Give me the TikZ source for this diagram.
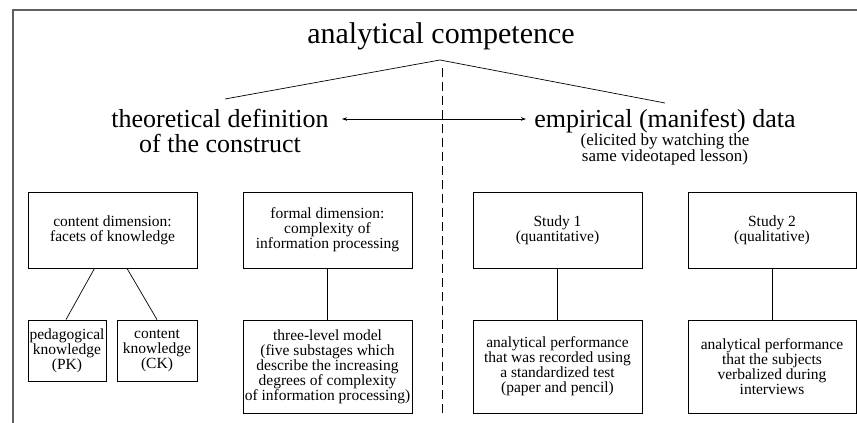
\documentclass[tikz,border=0pt]{standalone}
\usepackage{fontspec}
\setmainfont{Liberation Serif}
\newfontfamily\figserif{Liberation Serif}
\usetikzlibrary{arrows.meta}
\tikzset{
  box/.style={draw,line width=0.8pt,inner sep=0pt,align=center,font=\figserif\fontsize{15.5}{15}\selectfont},
  head/.style={inner sep=0pt,align=center,font=\figserif\fontsize{26}{25}\selectfont},
  link/.style={line width=0.7pt}
}

\begin{document}
\begin{tikzpicture}[x=1pt,y=-1pt]
    \useasboundingbox (0,0) rectangle (857,423);
    \draw [line width=1.6pt, gray!75!black] (13,423) -- (13,10) -- (857,10);

    \node [anchor=base, inner sep=0pt, font=\figserif\fontsize{30}{30}\selectfont] (title) at (441,43) {analytical competence};
    \node [head] (theo) at (220,131) {theoretical definition\\of the construct};
    \node [head, anchor=base] (emp) at (665,127) {empirical (manifest) data};
    \node [inner sep=0pt, align=center, font=\figserif\fontsize{17}{16}\selectfont] (elicit) at (665,149) {(elicited by watching the\\same videotaped lesson)};

    \coordinate (apex) at (440,60);
    \coordinate (theoTop) at (225,99);
    \coordinate (empTop) at (665,103);
    \coordinate (arrL) at (342,119);
    \coordinate (arrR) at (526,119);
    \coordinate (dashTop) at (442,68);
    \coordinate (dashBot) at (442,414);

    \draw [link] (theoTop) -- (apex) -- (empTop);
    \draw [link, dash pattern=on 9pt off 5pt] (dashTop) -- (dashBot);
    \draw [link, {Stealth[length=5pt,width=3.5pt]}-{Stealth[length=5pt,width=3.5pt]}] (arrL) -- (arrR);

    % upper row
    \node [box, minimum width=169pt, minimum height=76pt] (content) at (112.5,230) {content dimension:\\facets of knowledge};
    \node [box, minimum width=169pt, minimum height=76pt] (formal) at (327.5,230) {formal dimension:\\complexity of\\information processing};
    \node [box, minimum width=169pt, minimum height=76pt] (study1) at (557.5,230) {Study 1\\(quantitative)};
    \node [box, minimum width=168pt, minimum height=76pt] (study2) at (772,230) {Study 2\\(qualitative)};

    % lower row
    \node [box, minimum width=78pt, minimum height=61pt] (pk) at (67,350.5) {pedagogical\\knowledge\\(PK)};
    \node [box, minimum width=80pt, minimum height=61pt] (ck) at (157,350.5) {content\\knowledge\\(CK)};
    \node [box, minimum width=169pt, minimum height=93pt] (model) at (327.5,366.5) {three-level model\\(five substages which\\describe the increasing\\degrees of complexity\\of information processing)};
    \node [box, minimum width=169pt, minimum height=93pt] (test) at (557.5,366.5) {analytical performance\\that was recorded using\\a standardized test\\(paper and pencil)};
    \node [box, minimum width=168pt, minimum height=93pt] (interview) at (772,366.5) {analytical performance\\that the subjects\\verbalized during\\interviews};

    \draw [link] ([xshift=-18pt]content.south) -- ([xshift=-1pt]pk.north);
    \draw [link] ([xshift=14.5pt]content.south) -- (ck.north);
    \draw [link] (formal) -- (model);
    \draw [link] (study1) -- (test);
    \draw [link] (study2) -- (interview);
\end{tikzpicture}
\end{document}
